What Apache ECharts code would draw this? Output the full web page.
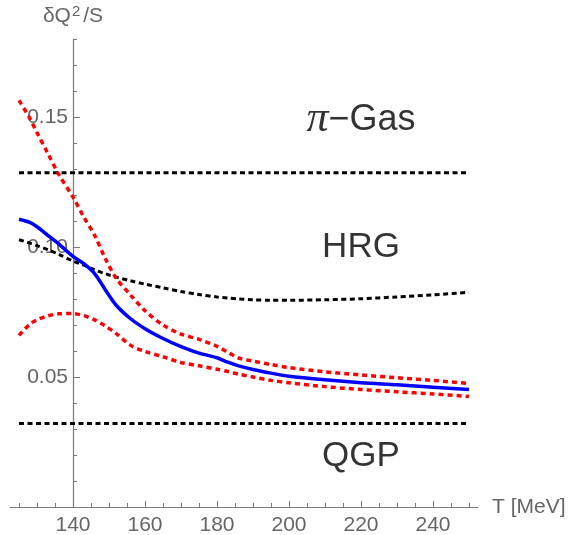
<!DOCTYPE html>
<html><head><meta charset="utf-8">
<script src="https://cdn.jsdelivr.net/npm/echarts@6/dist/echarts.min.js"></script>
<style>html,body{margin:0;padding:0;background:#fff}#c{width:569px;height:535px}</style>
</head><body><div id="c"></div>
<script>
// Temperature grid (MeV)
const T = [125,128,130,133,136,140,143,146,149,152,156,160,165,170,175,180,183,186,190,195,200,210,220,230,240,250];
// central (blue) curve
const central = [0.1107,0.1095,0.1078,0.1045,0.1012,0.0964,0.0936,0.0898,0.0835,0.0776,0.0724,0.0686,0.0648,0.0617,0.0592,0.0574,0.0557,0.0543,0.0529,0.0515,0.0503,0.0489,0.0478,0.0470,0.0461,0.0452];
// upper error band (red dotted)
const upper = [0.1564,0.1495,0.1440,0.1360,0.1280,0.1192,0.1115,0.1045,0.0955,0.0880,0.0815,0.0755,0.0700,0.0665,0.0645,0.0618,0.0595,0.0573,0.0561,0.0548,0.0536,0.0520,0.0508,0.0497,0.0487,0.0475];
// lower error band (red dotted)
const lower = [0.0660,0.0703,0.0720,0.0735,0.0743,0.0744,0.0736,0.0720,0.0696,0.0667,0.0622,0.0598,0.0578,0.0556,0.0543,0.0530,0.0521,0.0511,0.0500,0.0487,0.0478,0.0463,0.0452,0.0443,0.0435,0.0425];
// HRG curve (black dotted)
const hrg = [0.1028,0.1015,0.1005,0.0990,0.0972,0.0946,0.0930,0.0912,0.0897,0.0884,0.0870,0.0857,0.0843,0.0829,0.0817,0.0808,0.0804,0.0800,0.0797,0.0795,0.0795,0.0797,0.0801,0.0808,0.0816,0.0826];
// limiting levels
const piGasLevel = 0.1286;
const qgpLevel = 0.0321;
// region labels
const regionNames = ['π−Gas', 'HRG', 'QGP'];
const regionT = [220, 220, 220];
const regionV = [0.149, 0.0999, 0.0195];
// ticks
const xMajorTicks = [140,160,180,200,220,240];
const xMinorTicks = [125,130,135,145,150,155,165,170,175,185,190,195,205,210,215,225,230,235,245,250];
const yMajorTicks = [0.05,0.10,0.15];
const yMinorTicks = [0.01,0.02,0.03,0.04,0.06,0.07,0.08,0.09,0.11,0.12,0.13,0.14,0.16,0.17,0.18];

const xMin = 122.5, xMax = 252.5, yMin = 0, yMax = 0.18;
const gridL = 10, gridR = 91, gridT = 39, gridB = 28;
const W = 569;
const yAxisOffset = -((140 - xMin) / (xMax - xMin)) * (W - gridL - gridR);

const axisGray = '#7a7a7a', textGray = '#666';
const font = 'Liberation Sans, Arial, sans-serif';

const pairs = arr => T.map((t, i) => [t, arr[i]]);
const levelPairs = v => [[T[0], v], [T[T.length - 1], v]];

const chart = echarts.init(document.getElementById('c'), null, {renderer: 'canvas'});
chart.setOption({
  animation: false,
  backgroundColor: '#fff',
  grid: {left: gridL, right: gridR, top: gridT, bottom: gridB, containLabel: false, outerBoundsMode: 'none'},
  xAxis: [{
    type: 'value', min: xMin, max: xMax, position: 'bottom',
    name: 'T [MeV]', nameLocation: 'end', nameGap: 14,
    nameTextStyle: {color: textGray, fontSize: 21, fontFamily: font},
    axisLine: {show: true, onZero: false, lineStyle: {color: axisGray, width: 1.2}},
    axisTick: {show: true, inside: true, length: 6, customValues: xMajorTicks, lineStyle: {color: axisGray, width: 1}},
    axisLabel: {show: true, customValues: xMajorTicks, color: textGray, fontSize: 21, fontFamily: font, margin: 8},
    splitLine: {show: false}
  }, {
    type: 'value', min: xMin, max: xMax, position: 'bottom',
    axisLine: {show: false},
    axisTick: {show: true, inside: true, length: 4, customValues: xMinorTicks, lineStyle: {color: axisGray, width: 1}},
    axisLabel: {show: false},
    splitLine: {show: false}
  }],
  yAxis: [{
    type: 'value', min: yMin, max: yMax, position: 'left', offset: yAxisOffset,
    name: 'δQ{sup|2}/S', nameLocation: 'end', nameGap: 11,
    nameTextStyle: {color: textGray, fontSize: 21, fontFamily: font, align: 'center',
      rich: {sup: {fontSize: 15, color: textGray, fontFamily: font, padding: [0, 3, 9, 1]}}},
    axisLine: {show: true, onZero: false, lineStyle: {color: axisGray, width: 1.2}},
    axisTick: {show: true, inside: true, length: 7, customValues: yMajorTicks, lineStyle: {color: axisGray, width: 1}},
    axisLabel: {show: true, customValues: yMajorTicks, color: textGray, fontSize: 21, fontFamily: font, margin: 5,
      formatter: v => Number(v).toFixed(2)},
    splitLine: {show: false}
  }, {
    type: 'value', min: yMin, max: yMax, position: 'left', offset: yAxisOffset,
    axisLine: {show: false},
    axisTick: {show: true, inside: true, length: 4, customValues: yMinorTicks, lineStyle: {color: axisGray, width: 1}},
    axisLabel: {show: false},
    splitLine: {show: false}
  }],
  series: [
    {type: 'line', data: levelPairs(piGasLevel), symbol: 'none', lineStyle: {color: '#000', width: 3, type: [5, 3.5]}},
    {type: 'line', data: levelPairs(qgpLevel), symbol: 'none', lineStyle: {color: '#000', width: 3, type: [5, 3.5]}},
    {type: 'line', data: pairs(hrg), symbol: 'none', smooth: 0.3, lineStyle: {color: '#000', width: 3, type: [5, 3.5]}},
    {type: 'line', data: pairs(upper), symbol: 'none', smooth: 0.3, lineStyle: {color: '#ff0000', width: 3.5, type: [5, 4]}},
    {type: 'line', data: pairs(lower), symbol: 'none', smooth: 0.3, lineStyle: {color: '#ff0000', width: 3.5, type: [5, 4]}},
    {type: 'line', data: pairs(central), symbol: 'none', smooth: 0.3, lineStyle: {color: '#0000ff', width: 3.5}},
    {type: 'scatter', symbolSize: 0, silent: true,
      data: regionNames.map((n, i) => ({value: [regionT[i], regionV[i]], name: n})),
      label: {show: true, position: 'inside', color: '#000', fontFamily: font, fontSize: 35,
        formatter: p => p.name === 'π−Gas' ? '{pi|π}{g|−Gas}' : p.name,
        rich: {
          pi: {fontStyle: 'italic', fontFamily: 'Liberation Serif, serif', fontSize: 44, color: '#000'},
          g: {fontFamily: font, fontSize: 36, color: '#000'}
        }}
    }
  ]
});
</script></body></html>
